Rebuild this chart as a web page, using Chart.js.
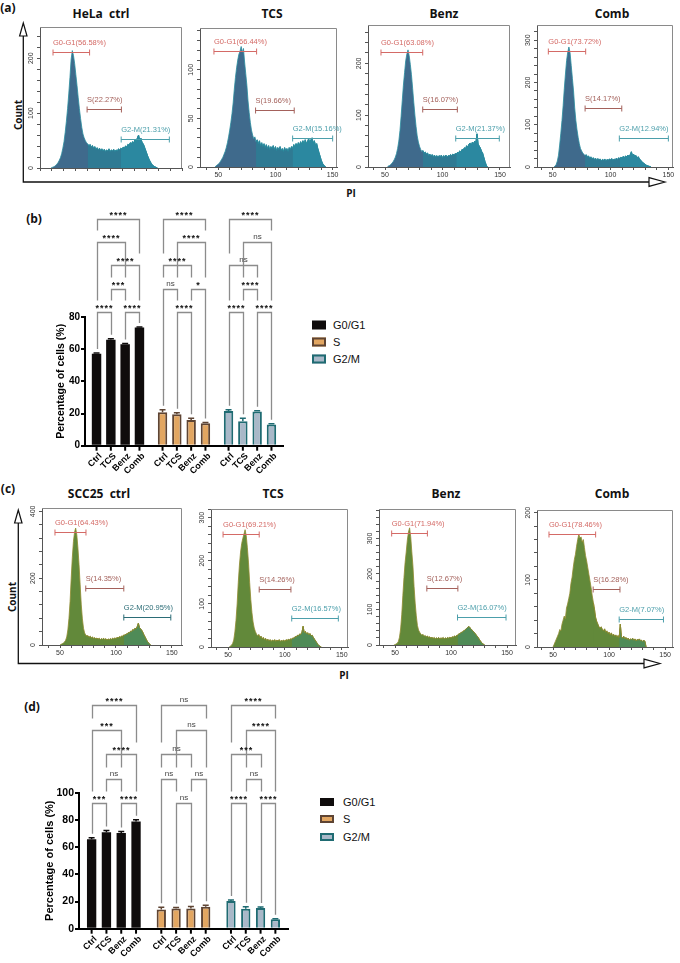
<!DOCTYPE html>
<html><head><meta charset="utf-8">
<script src="https://cdn.jsdelivr.net/npm/chart.js@4.4.1/dist/chart.umd.min.js"></script>
<style>
body{margin:0;width:680px;height:963px;position:relative;background:#fff;overflow:hidden;font-family:"Liberation Sans",Arial,sans-serif}
.t{position:absolute;font:bold 12px "Open Sans";transform:translate(-50%,-50%);white-space:pre;line-height:1;color:#111}
.ax{position:absolute;font:bold 10px "Open Sans";transform:translate(-50%,-50%);white-space:pre;line-height:1;color:#111}
.rot{transform:translate(-50%,-50%) rotate(-90deg)}
.lg{position:absolute;font:11px "Liberation Sans",Arial;line-height:1;transform:translateY(-50%);color:#111}
.sw{position:absolute;box-sizing:border-box;transform:translateY(-50%)}
canvas{position:absolute}
svg{position:absolute;left:0;top:0}
</style></head>
<body>
<svg width="680" height="963">
  <polyline points="23.3,36 23.3,182 649,182" fill="none" stroke="#111" stroke-width="1.3"/>
  <polygon points="23.3,23 19.6,36 27,36" fill="#fff" stroke="#111" stroke-width="1.2"/>
  <polygon points="665,182 649,177.6 649,186.4" fill="#fff" stroke="#111" stroke-width="1.2"/>
  <polyline points="18.3,523 18.3,663.5 644,663.5" fill="none" stroke="#111" stroke-width="1.3"/>
  <polygon points="18.3,510 14.6,523 22,523" fill="#fff" stroke="#111" stroke-width="1.2"/>
  <polygon points="660,663.5 644,659.1 644,667.9" fill="#fff" stroke="#111" stroke-width="1.2"/>
</svg>

<div class="t" style="left:8px;top:8px">(a)</div>
<div class="t" style="left:34px;top:219px">(b)</div>
<div class="t" style="left:8px;top:489px">(c)</div>
<div class="t" style="left:32px;top:707px">(d)</div>

<div class="t" style="left:101px;top:14px">HeLa  ctrl</div>
<div class="t" style="left:272px;top:14px">TCS</div>
<div class="t" style="left:444px;top:14px">Benz</div>
<div class="t" style="left:612px;top:14px">Comb</div>
<div class="t" style="left:99px;top:494px">SCC25  ctrl</div>
<div class="t" style="left:273px;top:494px">TCS</div>
<div class="t" style="left:446px;top:494px">Benz</div>
<div class="t" style="left:612px;top:494px">Comb</div>

<div class="ax rot" style="left:18px;top:115px">Count</div>
<div class="ax" style="left:351px;top:193px">PI</div>
<div class="ax rot" style="left:12px;top:597px">Count</div>
<div class="ax" style="left:344px;top:675px">PI</div>

<div class="sw" style="left:312px;top:325px;width:14px;height:9px;background:#0f0c0c"></div>
<div class="sw" style="left:312px;top:342px;width:14px;height:9px;background:#e2a661;border:2px solid #5e4433"></div>
<div class="sw" style="left:312px;top:359px;width:14px;height:9px;background:#a9b8c8;border:2px solid #1f6b72"></div>
<div class="lg" style="left:333px;top:325px">G0/G1</div>
<div class="lg" style="left:333px;top:342px">S</div>
<div class="lg" style="left:333px;top:359px">G2/M</div>

<div class="sw" style="left:320px;top:802px;width:14px;height:8px;background:#0f0c0c"></div>
<div class="sw" style="left:320px;top:819px;width:14px;height:8px;background:#e2a661;border:2px solid #5e4433"></div>
<div class="sw" style="left:320px;top:837px;width:14px;height:8px;background:#a9b8c8;border:2px solid #1f6b72"></div>
<div class="lg" style="left:343px;top:802px">G0/G1</div>
<div class="lg" style="left:343px;top:819px">S</div>
<div class="lg" style="left:343px;top:837px">G2/M</div>

<script>
// ================= DATA =================
// Flow-cytometry histograms: counts per PI bin (bin width 1), first bin at *Start
const helaCtrlStart = 48;
const helaCtrlCounts = [0,1,2,3,5,7,10,14,19,26,36,48,65,85,108,135,165,198,214,205,190,170,150,128,108,90,74,62,55,50,46,44,40,43,38,41,36,39,34,37,33,36,32,35,31,34,30,33,31,35,30,33,31,34,30,33,31,35,33,36,34,38,36,40,38,43,41,46,44,48,45,52,47,55,60,50,54,46,44,38,32,26,20,15,11,7,5,3,2,1,0];
const helaTcsStart = 47;
const helaTcsCounts = [0,1,2,3,4,6,8,10,13,16,20,25,31,38,46,55,66,80,92,102,110,116,119,124,118,122,108,96,84,68,56,46,38,33,29,31,26,28,24,27,22,25,21,24,20,23,19,22,18,21,19,22,18,21,17,20,18,21,17,19,16,20,17,19,16,20,18,21,19,23,20,24,21,25,22,26,23,27,22,28,24,26,29,25,28,30,24,27,22,24,19,15,11,7,4,2,1,0];
const helaBenzStart = 52;
const helaBenzCounts = [0,2,3,5,7,10,14,19,26,36,50,70,98,128,158,182,205,218,226,215,198,178,152,125,100,78,60,48,40,34,30,32,27,29,25,27,22,25,21,24,20,23,19,22,19,22,20,23,18,22,20,23,19,22,21,24,22,25,23,26,25,28,27,31,29,34,32,37,35,41,38,44,46,42,48,45,50,47,64,44,40,36,30,26,18,10,4,0];
const helaCombStart = 51;
const helaCombCounts = [0,2,6,14,28,52,80,110,145,185,220,252,272,284,270,240,210,180,140,110,88,70,55,44,38,33,30,27,29,24,26,21,24,19,22,18,21,16,20,17,19,15,18,16,19,15,18,16,19,17,20,16,19,17,21,18,22,20,23,21,25,22,26,24,28,25,29,36,27,30,25,27,22,24,19,16,13,10,8,6,4,3,2,1,0];
const sccCtrlStart = 50;
const sccCtrlCounts = [0,2,4,6,9,14,24,45,80,130,200,262,310,338,350,330,290,240,180,120,78,50,36,30,26,28,23,26,21,24,19,22,18,21,17,20,16,19,17,20,16,19,15,18,16,19,17,20,18,21,19,23,21,25,23,27,26,30,29,33,32,37,36,41,40,46,44,50,48,55,65,52,48,44,38,30,24,17,11,6,3,0];
const sccTcsStart = 51;
const sccTcsCounts = [0,2,4,8,16,35,62,100,150,190,220,240,252,262,272,258,230,195,150,110,80,58,44,36,30,26,29,22,25,19,22,17,20,15,18,14,17,13,16,14,17,13,16,14,17,13,15,14,16,13,17,15,18,16,19,18,21,20,24,23,27,26,30,29,34,48,33,36,30,33,28,31,26,27,22,18,14,10,6,3,1,0];
const sccBenzStart = 49;
const sccBenzCounts = [0,1,3,5,10,22,45,85,140,190,232,262,295,318,330,305,262,222,165,118,82,55,42,36,31,28,30,25,27,23,25,21,23,19,22,18,21,17,20,18,21,17,20,18,21,17,20,18,21,19,22,20,23,22,25,24,27,28,31,32,35,36,39,41,44,47,50,52,48,45,41,38,34,30,26,22,17,12,8,4,2,0];
const sccCombStart = 50;
const sccCombCounts = [0,4,8,12,16,20,26,24,34,40,46,42,58,64,72,80,95,104,118,130,138,150,160,168,162,164,156,160,148,136,128,118,108,98,88,76,66,56,44,38,34,30,28,30,26,24,27,22,24,20,22,18,21,17,19,16,18,15,17,14,34,15,13,16,12,14,11,13,10,12,11,13,10,12,9,11,10,12,9,10,8,10,8,0];

// Gates: [PI from, PI to, marker height in counts] for G0-G1, S, G2-M; and percentages
const gateNames = ['G0-G1','S','G2-M'];
const helaCtrlGates = [[49.7,80.6,212],[78.5,107.5,107],[107.3,148,52]];
const helaTcsGates  = [[46.2,83.5,119],[82.6,116.4,59],[115,150,30]];
const helaBenzGates = [[46.5,82.8,222],[82.8,112.9,111],[111.5,149.4,56]];
const helaCombGates = [[46.2,78.5,275],[78,109.7,139],[107.6,150,69]];
const sccCtrlGates  = [[45.5,73.2,338],[73,107,171],[107,149,84]];
const sccTcsGates   = [[45.6,77.4,263],[77.4,105.3,135],[106,147,68]];
const sccBenzGates  = [[47,78.9,315],[78.4,106.1,160],[105.8,149.1,78]];
const sccCombGates  = [[46.4,88,168],[85.8,109.7,86],[109,148.5,42]];
const helaCtrlPct = [56.58,22.27,21.31];
const helaTcsPct  = [66.44,19.66,15.16];
const helaBenzPct = [63.08,16.07,21.37];
const helaCombPct = [73.72,14.17,12.94];
const sccCtrlPct  = [64.43,14.35,20.95];
const sccTcsPct   = [69.21,14.26,16.57];
const sccBenzPct  = [71.94,12.67,16.07];
const sccCombPct  = [78.46,16.28,7.07];

// Bar charts: percentage of cells (mean, error) per phase for Ctrl, TCS, Benz, Comb
const treatments = ['Ctrl','TCS','Benz','Comb'];
const phases = ['G0/G1','S','G2/M'];
const helaG0G1 = [57.2,65.9,63.1,73.4];  const helaG0G1Err = [0.5,0.6,0.4,0.4];
const helaS    = [20.8,19.5,15.9,13.9];  const helaSErr    = [1.6,1.0,1.1,0.5];
const helaG2M  = [21.5,15.2,21.2,13.2];  const helaG2MErr  = [0.9,1.8,0.5,0.4];
const sccG0G1  = [65.7,70.9,70.4,78.8];  const sccG0G1Err  = [1.2,1.3,1.0,1.3];
const sccS     = [14.2,14.8,14.8,16.2];  const sccSErr     = [1.5,0.8,1.6,1.0];
const sccG2M   = [20.4,14.7,15.3,6.9];   const sccG2MErr   = [0.7,1.5,0.7,0.4];
// significance: [phase, treatment a, treatment b, tier (1 = top), label]
const helaSig = [
  [0,0,3,1,'****'],[0,0,2,2,'****'],[0,1,3,3,'****'],[0,1,2,4,'***'],[0,0,1,5,'****'],[0,2,3,5,'****'],
  [1,0,3,1,'****'],[1,1,3,2,'****'],[1,0,2,3,'****'],[1,0,1,4,'ns'],[1,2,3,4,'*'],[1,1,2,5,'****'],
  [2,0,3,1,'****'],[2,1,3,2,'ns'],[2,0,2,3,'ns'],[2,1,2,4,'****'],[2,0,1,5,'****'],[2,2,3,5,'****']];
const sccSig = [
  [0,0,3,1,'****'],[0,0,2,2,'***'],[0,1,3,3,'****'],[0,1,2,4,'ns'],[0,0,1,5,'***'],[0,2,3,5,'****'],
  [1,0,3,1,'ns'],[1,1,3,2,'ns'],[1,0,2,3,'ns'],[1,0,1,4,'ns'],[1,2,3,4,'ns'],[1,1,2,5,'ns'],
  [2,0,3,1,'****'],[2,1,3,2,'****'],[2,0,2,3,'***'],[2,1,2,4,'ns'],[2,0,1,5,'****'],[2,2,3,5,'****']];

// ================= DRAWING =================
const FONT = '"Liberation Sans", Arial, sans-serif';
const styleA = {fill:['#3f6a8c','#2f7a93','#2b88a0'], edge:'#2a8d9e', gate:['#d46a66','#a4615b','#4c9fab']};
const styleC = {fill:['#62893a','#62893a','#4f8b57'], edge:'#8e8a2e', gate:['#d46a66','#a4615b','#4c9fab']};

function makeHist(area, xr, ymax, yStep, yLab, start, counts, gates, pcts, style) {
  const padL = 26, padT = 4, padR = 8, padB = 16;
  const w = area[2]-area[0]+padL+padR, h = area[3]-area[1]+padT+padB;
  const cv = document.createElement('canvas');
  cv.width = w; cv.height = h;
  cv.style.left = (area[0]-padL)+'px'; cv.style.top = (area[1]-padT)+'px';
  cv.style.width = w+'px'; cv.style.height = h+'px';
  document.body.appendChild(cv);
  const pts = counts.map((c,i)=>({x:start+i, y:c}));
  const b1 = Math.round(gates[1][0]), b2 = Math.round(gates[2][0]);
  // layered regions: each layer runs from its gate start to the end, later layers on top (no seams)
  const layers = [pts, pts.filter(p=>p.x>=b1), pts.filter(p=>p.x>=b2)];
  const deco = {id:'deco', afterDraw(chart){
    const ctx = chart.ctx, ca = chart.chartArea, xs = chart.scales.x, ys = chart.scales.y;
    ctx.save();
    ctx.strokeStyle = '#8a8a8a'; ctx.lineWidth = 1;
    ctx.beginPath(); ctx.moveTo(ca.left, ca.top+0.5); ctx.lineTo(ca.right-0.5, ca.top+0.5); ctx.lineTo(ca.right-0.5, ca.bottom); ctx.stroke();
    ctx.fillStyle = '#333'; ctx.font = '7px '+FONT; ctx.textAlign = 'center'; ctx.textBaseline = 'bottom';
    ys.ticks.forEach(t=>{
      if (t.value % yLab !== 0) return;
      const py = ys.getPixelForValue(t.value);
      ctx.save(); ctx.translate(ca.left-5, py); ctx.rotate(-Math.PI/2); ctx.fillText(String(t.value), 0, 0); ctx.restore();
    });
    gates.forEach((g,k)=>{
      const x1 = xs.getPixelForValue(g[0]), x2 = xs.getPixelForValue(g[1]), y = Math.round(ys.getPixelForValue(g[2]))+0.5;
      ctx.strokeStyle = style.gate[k]; ctx.lineWidth = 1;
      ctx.beginPath(); ctx.moveTo(x1,y); ctx.lineTo(x2,y);
      ctx.moveTo(x1,y-3); ctx.lineTo(x1,y+3); ctx.moveTo(x2,y-3); ctx.lineTo(x2,y+3); ctx.stroke();
      ctx.fillStyle = style.gate[k]; ctx.font = '7.5px '+FONT; ctx.textAlign = 'left'; ctx.textBaseline = 'middle';
      ctx.fillText(gateNames[k]+'('+pcts[k].toFixed(2)+'%)', x1, y-10);
    });
    ctx.restore();
  }};
  new Chart(cv, {
    type:'line',
    data:{datasets: layers.map((r,k)=>({data:r, order:3-k, fill:'origin', backgroundColor:style.fill[k], borderColor:style.edge, borderWidth:0.8, pointRadius:0, tension:0}))},
    options:{responsive:false, animation:false, events:[], devicePixelRatio:1,
      layout:{padding:{top:padT,right:padR,left:0,bottom:0}},
      plugins:{legend:{display:false}, tooltip:{enabled:false}},
      scales:{
        x:{type:'linear', min:xr[0], max:xr[1], afterFit:s=>{s.height=padB;},
           border:{color:'#555',width:1}, grid:{drawOnChartArea:false, tickLength:3, color:'#555'},
           ticks:{stepSize:10, includeBounds:false, autoSkip:false, maxRotation:0, padding:1, color:'#333',
                  font:{size:7, family:FONT}, callback:v=> v%50===0 ? String(v) : ''}},
        y:{type:'linear', min:0, max:ymax, afterFit:s=>{s.width=padL;},
           border:{color:'#555',width:1}, grid:{drawOnChartArea:false, tickLength:3, color:'#555'},
           ticks:{display:false, stepSize:yStep, includeBounds:false}}
      }},
    plugins:[deco]
  });
}

makeHist([40,27,182,168],[38.7,158.7],257,20,100,helaCtrlStart,helaCtrlCounts,helaCtrlGates,helaCtrlPct,styleA);
makeHist([200,28,337,167],[34,153.8],143,10,50,helaTcsStart,helaTcsCounts,helaTcsGates,helaTcsPct,styleA);
makeHist([368,25,510,167],[35.2,158.7],274,20,100,helaBenzStart,helaBenzCounts,helaBenzGates,helaBenzPct,styleA);
makeHist([537,25,673,167],[36.4,154],336,20,100,helaCombStart,helaCombCounts,helaCombGates,helaCombPct,styleA);
const styleC1 = Object.assign({}, styleC, {gate:['#d46a66','#a4615b','#2b6c76']});
makeHist([42,508,182,645],[33.9,159],410,40,200,sccCtrlStart,sccCtrlCounts,sccCtrlGates,sccCtrlPct,styleC1);
makeHist([211,509,348,647],[35,155.5],320,20,100,sccTcsStart,sccTcsCounts,sccTcsGates,sccTcsPct,styleC);
makeHist([379,509,516,645],[35.7,158],383,20,100,sccBenzStart,sccBenzCounts,sccBenzGates,sccBenzPct,styleC);
makeHist([537,510,673,647],[35.7,157],204,20,100,sccCombStart,sccCombCounts,sccCombGates,sccCombPct,styleC);

const phaseFill = ['#0f0c0c','#e2a661','#a9b8c8'];
const phaseEdge = ['#0f0c0c','#5e4433','#1f6b72'];

function makeBars(o) {
  const cv = document.createElement('canvas');
  cv.width = o.w; cv.height = o.h;
  cv.style.left = o.x0+'px'; cv.style.top = o.y0+'px'; cv.style.width = o.w+'px'; cv.style.height = o.h+'px';
  document.body.appendChild(cv);
  const padT = o.area[1]-o.y0, padR = o.x0+o.w-o.area[2], yW = o.area[0]-o.x0, xH = o.y0+o.h-o.area[3];
  const datasets = treatments.map((t,ti)=>({label:t, data:o.vals.map(a=>a[ti]),
    backgroundColor:phaseFill, borderColor:phaseEdge, borderWidth:[0,2,2], borderSkipped:'start',
    categoryPercentage:o.cat, barPercentage:o.bar}));
  const deco = {id:'bardeco',
    afterDatasetsDraw(chart){
      const ctx = chart.ctx, ca = chart.chartArea, ys = chart.scales.y;
      ctx.save();
      treatments.forEach((t,ti)=>{
        chart.getDatasetMeta(ti).data.forEach((el,p)=>{
          const top = el.y, ey = ys.getPixelForValue(o.vals[p][ti]+o.errs[p][ti]);
          ctx.strokeStyle = phaseEdge[p]; ctx.lineWidth = 1.5;
          ctx.beginPath(); ctx.moveTo(el.x, top); ctx.lineTo(el.x, ey); ctx.moveTo(el.x-3, ey); ctx.lineTo(el.x+3, ey); ctx.stroke();
          ctx.strokeStyle = '#000'; ctx.lineWidth = 2;
          ctx.beginPath(); ctx.moveTo(el.x, ca.bottom); ctx.lineTo(el.x, ca.bottom+5); ctx.stroke();
          ctx.save(); ctx.translate(el.x+4, ca.bottom+9); ctx.rotate(-Math.PI/4);
          ctx.fillStyle = '#000'; ctx.font = 'bold 9px '+FONT; ctx.textAlign = 'right'; ctx.textBaseline = 'middle';
          ctx.fillText(t, 0, 0); ctx.restore();
        });
      });
      ctx.restore();
    },
    afterDraw(chart){
      const ctx = chart.ctx, ca = chart.chartArea, ys = chart.scales.y;
      const bx = (p,t)=>chart.getDatasetMeta(t).data[p].x;
      const tierY = k => Math.round(ca.top + o.base + (k-1)*o.gap)+0.5;
      ctx.save();
      o.sig.forEach(([p,a,b,tier,txt])=>{
        const y = tierY(tier);
        const legEnd = t => {
          const lower = o.sig.filter(c=>c[0]===p && c[3]>tier && (c[1]===t||c[2]===t)).map(c=>c[3]);
          if (lower.length) return tierY(Math.min(...lower)) - 12;
          return ys.getPixelForValue(o.vals[p][t]+o.errs[p][t]) - 4;
        };
        const xa = Math.round(bx(p,a))+0.5, xb = Math.round(bx(p,b))+0.5;
        ctx.strokeStyle = '#8c8c8c'; ctx.lineWidth = 1.3;
        ctx.beginPath(); ctx.moveTo(xa, legEnd(a)); ctx.lineTo(xa, y); ctx.lineTo(xb, y); ctx.lineTo(xb, legEnd(b)); ctx.stroke();
        ctx.textAlign = 'center'; ctx.textBaseline = 'alphabetic';
        if (txt === 'ns') { ctx.fillStyle = '#444'; ctx.font = '8px '+FONT; ctx.letterSpacing = '0px'; ctx.fillText(txt, (xa+xb)/2, y-4); }
        else { ctx.fillStyle = '#111'; ctx.font = 'bold 9px '+FONT; ctx.letterSpacing = '1px'; ctx.fillText(txt, (xa+xb)/2, y-2); }
      });
      ctx.restore();
    }};
  new Chart(cv, {
    type:'bar',
    data:{labels:phases, datasets},
    options:{responsive:false, animation:false, events:[], devicePixelRatio:1,
      layout:{padding:{top:padT,right:padR,left:0,bottom:0}},
      plugins:{legend:{display:false}, tooltip:{enabled:false}},
      scales:{
        x:{afterFit:s=>{s.height=xH;}, grid:{display:false}, border:{color:'#000',width:2}, ticks:{display:false}},
        y:{min:0, max:o.ymax, afterFit:s=>{s.width=yW;},
           border:{color:'#000',width:2}, grid:{drawOnChartArea:false, tickLength:4, color:'#000', lineWidth:2},
           ticks:{stepSize:20, padding:1, color:'#000', font:{size:o.tickSize, weight:'bold', family:FONT}},
           title:{display:true, text:'Percentage of cells (%)', color:'#000', font:{size:o.titleSize, weight:'bold', family:FONT}, padding:{top:o.titlePad, bottom:0}}}
      }},
    plugins:[deco]
  });
}

makeBars({x0:30, y0:200, w:270, h:280, area:[85,317,283,445.7], ymax:80,
  vals:[helaG0G1,helaS,helaG2M], errs:[helaG0G1Err,helaSErr,helaG2MErr], sig:helaSig,
  cat:0.867, bar:0.66, base:-98, gap:23.2, tickSize:10, titleSize:10.5, titlePad:25});
makeBars({x0:25, y0:690, w:275, h:273, area:[79,792.7,288,928.7], ymax:100,
  vals:[sccG0G1,sccS,sccG2M], errs:[sccG0G1Err,sccSErr,sccG2MErr], sig:sccSig,
  cat:0.85, bar:0.63, base:-87.7, gap:24.5, tickSize:10.5, titleSize:11, titlePad:18});
</script>
</body></html>
